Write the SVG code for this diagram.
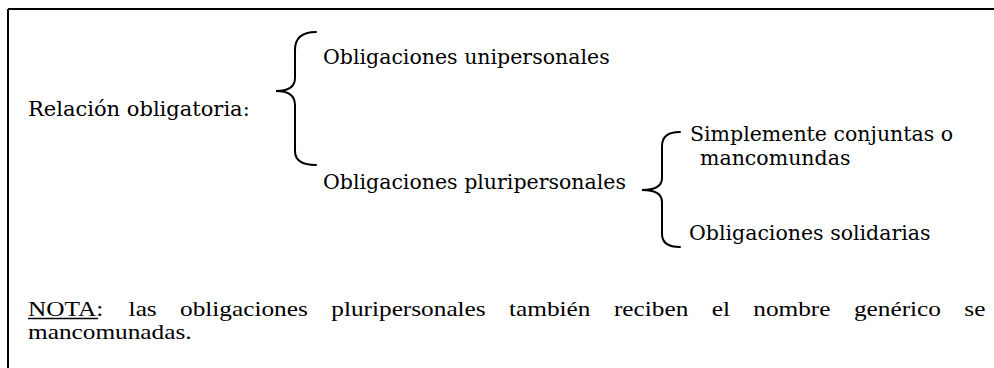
<svg xmlns="http://www.w3.org/2000/svg" width="994" height="368" viewBox="0 0 994 368">
<style>
.t{font-family:"DejaVu Serif","Liberation Serif",serif;font-size:20.5px;fill:#000}
.n{font-family:"Liberation Serif","Times New Roman",serif;font-size:22px;fill:#000}
.br{fill:none;stroke:#000;stroke-width:2;stroke-linecap:round}
</style>
<rect width="994" height="368" fill="#fff"/>
<g id="frame"><path d="M8,9 H994 M8,9 V368" fill="none" stroke="#000" stroke-width="2"/></g>
<g id="root"><text class="t" x="28" y="116" style="font-size:21px">Relación obligatoria:</text></g>
<g id="uni"><text class="t" x="323" y="64">Obligaciones unipersonales</text></g>
<g id="pluri"><text class="t" x="323" y="189">Obligaciones pluripersonales</text></g>
<g id="simple"><text class="t" x="690" y="141">Simplemente conjuntas o</text><text class="t" x="700" y="165">mancomundas</text></g>
<g id="solid"><text class="t" x="689" y="240">Obligaciones solidarias</text></g>
<g id="connectors">
<path class="br" d="M316,32 C302,32 295,38 295,50 L295,78 C295,87 289,91 276,91 C289,91 295,96 295,105 L295,151 C295,160 302,165 316,165"/>
<path class="br" d="M680,132 C668,132 662,137 662,146 L662,178 C662,186 656,190 642,190 C656,190 662,194 662,202 L662,234 C662,243 668,247 680,247"/>
</g>
<g id="note" transform="translate(28,0) scale(1.15,1)">
<text class="n" y="316"><tspan x="0">NOTA</tspan><tspan>:</tspan><tspan x="87.5">las</tspan><tspan x="132.2">obligaciones</tspan><tspan x="263.7">pluripersonales</tspan><tspan x="418.3">también</tspan><tspan x="509.5">reciben</tspan><tspan x="594.5">el</tspan><tspan x="630.7">nombre</tspan><tspan x="718.2">genérico</tspan><tspan x="814.2">se</tspan></text>
<line x1="0" y1="318.5" x2="61" y2="318.5" stroke="#000" stroke-width="1.3"/>
<text class="n" x="0" y="339">mancomunadas.</text>
</g>
</svg>
